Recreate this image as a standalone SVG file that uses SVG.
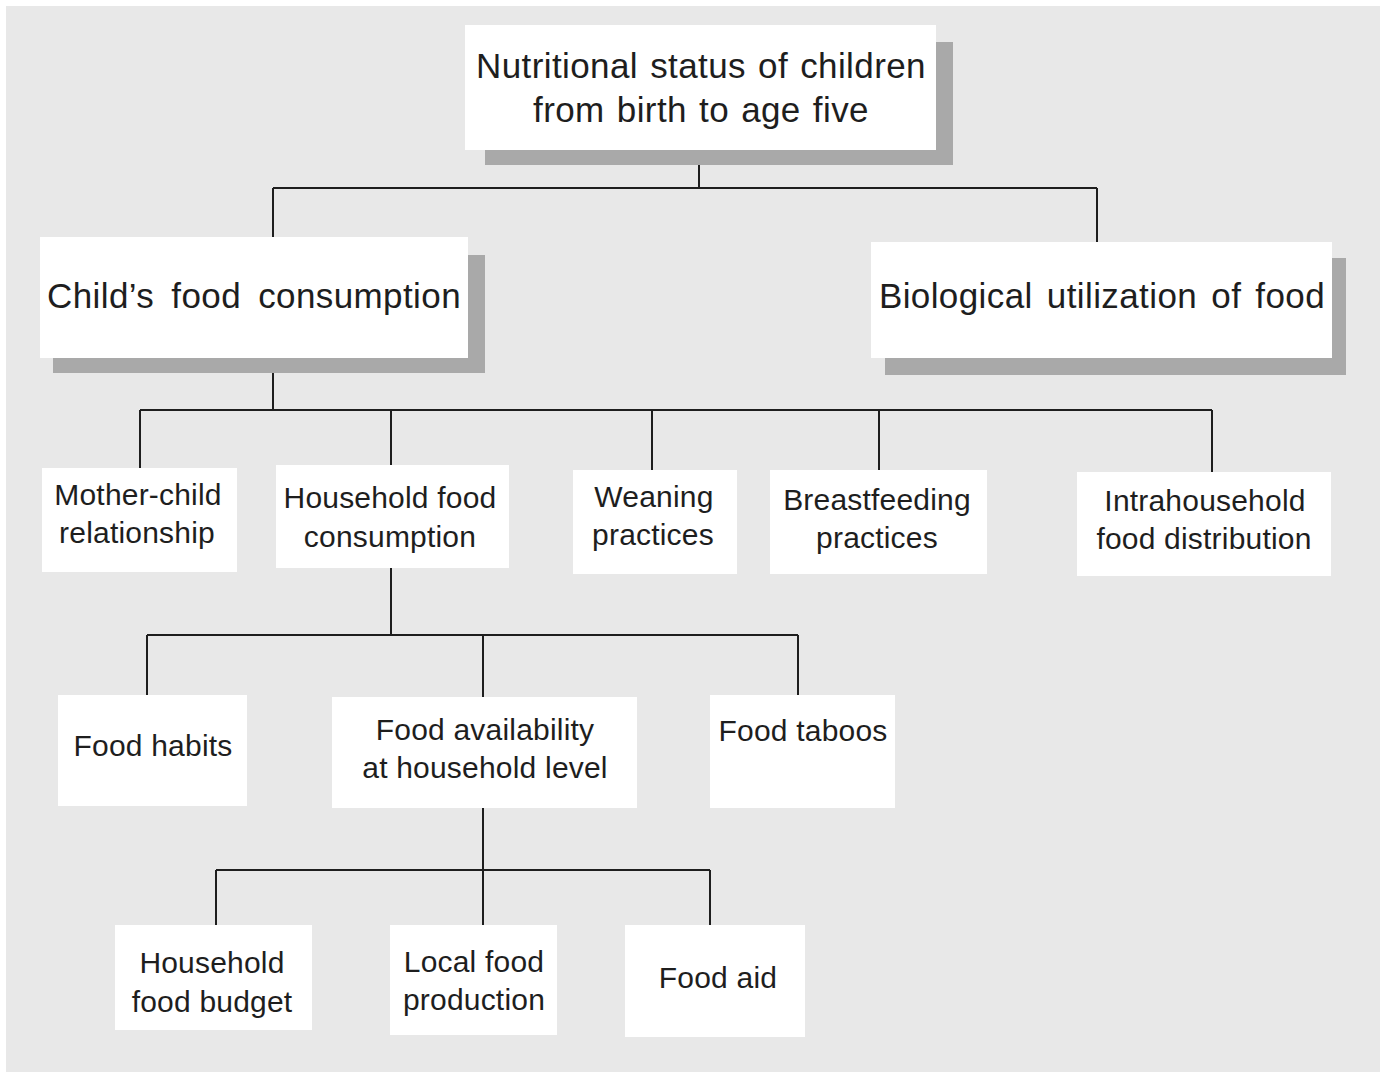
<svg xmlns="http://www.w3.org/2000/svg" width="1386" height="1074" viewBox="0 0 1386 1074">
<style>
.bg{fill:#e8e8e8}
.box{fill:#ffffff}
.sh{fill:#a9a9a9}
.ln{stroke:#1e1e1e;stroke-width:2;fill:none}
text{font-family:"Liberation Sans",Arial,sans-serif;fill:#1e1e1e;text-anchor:middle}
.t1{font-size:35px;letter-spacing:0.4px}
.t2{font-size:30px;letter-spacing:0.2px}
</style>
<rect x="0" y="0" width="1386" height="1074" fill="#ffffff"/>
<rect class="bg" x="6" y="6" width="1374" height="1066"/>
<g id="connectors">
<path class="ln" d="M699 150 V188 M273 188 H1097 M273 188 V240 M1097 188 V242"/>
<path class="ln" d="M273 358 V410 M140 410 H1212 M140 410 V468 M391 410 V465 M652 410 V470 M879 410 V470 M1212 410 V472"/>
<path class="ln" d="M391 568 V635 M147 635 H798 M147 635 V695 M483 635 V697 M798 635 V695"/>
<path class="ln" d="M483 808 V870 M216 870 H710 M216 870 V925 M483 870 V925 M710 870 V925"/>
</g>
<g id="n-root">
<rect class="sh" x="485" y="42" width="468" height="123"/>
<rect class="box" x="465" y="25" width="471" height="125"/>
<text class="t1" x="701" y="78" word-spacing="2">Nutritional status of children</text>
<text class="t1" x="701" y="122" word-spacing="2">from birth to age five</text>
</g>
<g id="n-childfood">
<rect class="sh" x="53" y="255" width="432" height="118"/>
<rect class="box" x="40" y="237" width="428" height="121"/>
<text class="t1" x="254" y="308" word-spacing="7">Child’s food consumption</text>
</g>
<g id="n-bio">
<rect class="sh" x="885" y="258" width="461" height="117"/>
<rect class="box" x="871" y="242" width="461" height="116"/>
<text class="t1" x="1102" y="308" word-spacing="4">Biological utilization of food</text>
</g>
<g id="n-mother">
<rect class="box" x="42" y="468" width="195" height="104"/>
<text class="t2" x="138" y="505">Mother-child</text>
<text class="t2" x="137" y="543">relationship</text>
</g>
<g id="n-household">
<rect class="box" x="276" y="465" width="233" height="103"/>
<text class="t2" x="390" y="508">Household food</text>
<text class="t2" x="390" y="547">consumption</text>
</g>
<g id="n-weaning">
<rect class="box" x="573" y="470" width="164" height="104"/>
<text class="t2" x="654" y="507">Weaning</text>
<text class="t2" x="653" y="545">practices</text>
</g>
<g id="n-breast">
<rect class="box" x="770" y="470" width="217" height="104"/>
<text class="t2" x="877" y="510">Breastfeeding</text>
<text class="t2" x="877" y="548">practices</text>
</g>
<g id="n-intra">
<rect class="box" x="1077" y="472" width="254" height="104"/>
<text class="t2" x="1205" y="511">Intrahousehold</text>
<text class="t2" x="1204" y="549">food distribution</text>
</g>
<g id="n-habits">
<rect class="box" x="58" y="695" width="189" height="111"/>
<text class="t2" x="153" y="756">Food habits</text>
</g>
<g id="n-avail">
<rect class="box" x="332" y="697" width="305" height="111"/>
<text class="t2" x="485" y="740">Food availability</text>
<text class="t2" x="485" y="778">at household level</text>
</g>
<g id="n-taboos">
<rect class="box" x="710" y="695" width="185" height="113"/>
<text class="t2" x="803" y="741">Food taboos</text>
</g>
<g id="n-budget">
<rect class="box" x="115" y="925" width="197" height="105"/>
<text class="t2" x="212" y="973">Household</text>
<text class="t2" x="212" y="1012">food budget</text>
</g>
<g id="n-local">
<rect class="box" x="390" y="925" width="167" height="110"/>
<text class="t2" x="474" y="972">Local food</text>
<text class="t2" x="474" y="1010">production</text>
</g>
<g id="n-aid">
<rect class="box" x="625" y="925" width="180" height="112"/>
<text class="t2" x="718" y="988">Food aid</text>
</g>
</svg>
